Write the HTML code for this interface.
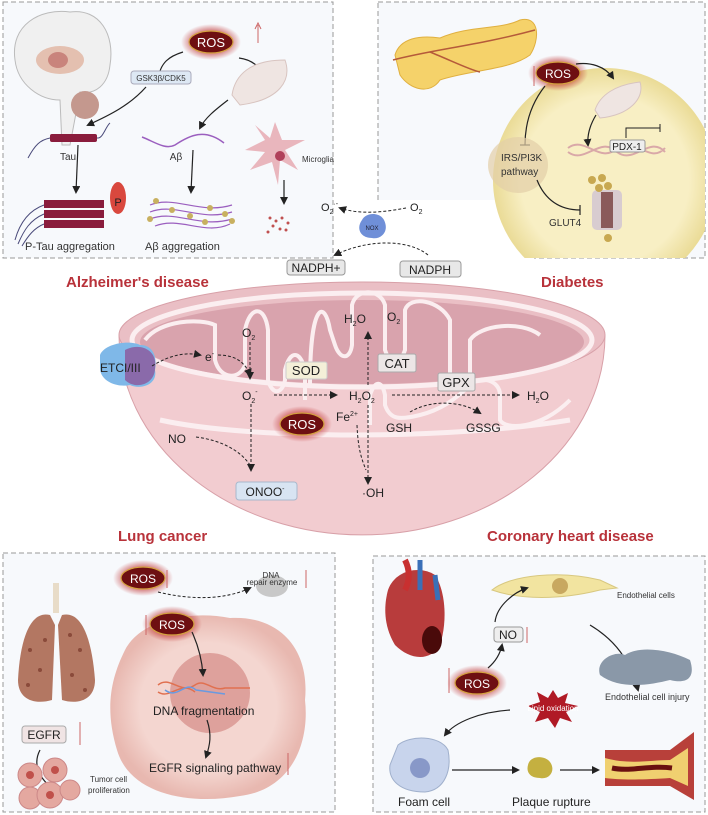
<!DOCTYPE html>
<html><head><meta charset="utf-8"><style>
html,body{margin:0;padding:0;background:#fff}
svg{display:block}
text{font-family:"Liberation Sans",sans-serif}
</style></head><body>
<svg width="708" height="815" viewBox="0 0 708 815" xmlns="http://www.w3.org/2000/svg">
<defs>
<marker id="ah" markerWidth="8" markerHeight="8" refX="6" refY="4" orient="auto" markerUnits="userSpaceOnUse"><path d="M0,0 L8,4 L0,8 Z" fill="#222"/></marker>
<radialGradient id="glow"><stop offset="0.6" stop-color="#b22" stop-opacity="0.6"/><stop offset="1" stop-color="#b22" stop-opacity="0"/></radialGradient>
<radialGradient id="cellY" cx="0.5" cy="0.5" r="0.5"><stop offset="0.75" stop-color="#f8efc4"/><stop offset="1" stop-color="#eadb96"/></radialGradient>
<radialGradient id="cellP" cx="0.5" cy="0.5" r="0.5"><stop offset="0.7" stop-color="#f4d6d0"/><stop offset="1" stop-color="#e8b8b0"/></radialGradient>
<clipPath id="dclip"><rect x="378" y="2" width="327" height="256"/></clipPath>
<g id="ros"><ellipse cx="0" cy="0" rx="30" ry="18" fill="url(#glow)"/><ellipse cx="0" cy="0" rx="22" ry="11" fill="#6e0f12" stroke="#d4a340" stroke-width="1.2"/></g>
</defs>

<!-- panels -->
<rect x="3" y="2" width="330" height="256" fill="#f7f9fc" stroke="#999" stroke-dasharray="5,3"/>
<rect x="378" y="2" width="327" height="256" fill="#f7f9fc" stroke="#999" stroke-dasharray="5,3"/>
<rect x="3" y="553" width="332" height="259" fill="#f7f9fc" stroke="#999" stroke-dasharray="5,3"/>
<rect x="373" y="556" width="332" height="256" fill="#f7f9fc" stroke="#999" stroke-dasharray="5,3"/>
<rect x="334" y="200" width="200" height="60" fill="#fff"/>

<!-- ===== Alzheimer panel ===== -->
<path d="M15,60 C10,25 40,8 70,12 C100,8 115,35 110,65 C108,85 95,95 80,92 L70,145 L62,145 L60,100 C40,100 18,85 15,60Z" fill="#f0f0f0" stroke="#bbb"/>
<ellipse cx="60" cy="60" rx="24" ry="14" fill="#e4c0b0"/>
<ellipse cx="58" cy="60" rx="10" ry="8" fill="#c9847c"/>
<circle cx="85" cy="105" r="14" fill="#c4988e"/>
<g transform="translate(211,42)"><use href="#ros"/></g>
<text x="211" y="47" font-size="13" fill="#fff" text-anchor="middle">ROS</text>
<line x1="258" y1="43" x2="258" y2="25" stroke="#c66" stroke-width="1"/><path d="M255,29 L258,23 L261,29" fill="none" stroke="#c66"/>
<path d="M183,52 C170,56 160,62 158,80" fill="none" stroke="#222" stroke-width="1.2" marker-end="url(#ah)"/>
<path d="M239,58 C255,60 262,70 266,80" fill="none" stroke="#222" stroke-width="1.2" marker-end="url(#ah)"/>
<rect x="131" y="71" width="60" height="13" rx="3" fill="#dde8f4" stroke="#aab"/>
<text x="161" y="81" font-size="8" fill="#333" text-anchor="middle">GSK3β/CDK5</text>
<path d="M232,95 C235,75 250,60 285,60 C292,80 280,100 240,105Z" fill="#efe5e2" stroke="#d8c4c0"/>
<path d="M146,87 C130,105 110,115 88,125" fill="none" stroke="#222" stroke-width="1.2" marker-end="url(#ah)"/>
<path d="M228,100 C215,110 205,118 200,128" fill="none" stroke="#222" stroke-width="1.2" marker-end="url(#ah)"/>
<path d="M28,158 C35,145 40,140 50,138 L98,138 C103,138 106,126 110,123" fill="none" stroke="#4a4a7a" stroke-width="1"/>
<rect x="50" y="134" width="47" height="8" rx="2" fill="#8a1c3c"/>
<text x="68" y="160" font-size="10" fill="#333" text-anchor="middle">Tau</text>
<line x1="78" y1="145" x2="76" y2="192" stroke="#222" stroke-width="1.2" marker-end="url(#ah)"/>
<g fill="#8a1c3c"><rect x="44" y="200" width="60" height="8"/><rect x="44" y="210" width="60" height="8"/><rect x="44" y="220" width="60" height="8"/></g>
<path d="M15,240 C20,222 30,210 44,205 M18,244 C24,230 30,220 44,214 M22,246 C28,236 34,228 44,224" fill="none" stroke="#4a4a7a"/>
<ellipse cx="118" cy="198" rx="8" ry="16" fill="#d9483e"/>
<text x="118" y="206" font-size="11" fill="#222" text-anchor="middle">P</text>
<text x="25" y="250" font-size="11" fill="#333">P-Tau aggregation</text>
<path d="M142,137 C155,142 165,150 175,145 C190,135 205,128 224,143" fill="none" stroke="#9b5fbf" stroke-width="1.5"/>
<text x="176" y="160" font-size="10" fill="#333" text-anchor="middle">Aβ</text>
<line x1="193" y1="150" x2="191" y2="192" stroke="#222" stroke-width="1.2" marker-end="url(#ah)"/>
<path d="M150,205 C175,195 200,215 232,205 M150,212 C175,202 200,222 232,212 M150,219 C175,209 200,229 232,219 M155,226 C180,216 205,236 230,224" fill="none" stroke="#9b5fbf" stroke-width="1.2"/>
<g fill="#c8b060"><circle cx="156" cy="201" r="3"/><circle cx="172" cy="210" r="3"/><circle cx="210" cy="208" r="3"/><circle cx="225" cy="214" r="3"/><circle cx="150" cy="219" r="3"/><circle cx="190" cy="216" r="3"/><circle cx="232" cy="221" r="3"/><circle cx="205" cy="222" r="3"/></g>
<text x="145" y="250" font-size="11" fill="#333">Aβ aggregation</text>
<path d="M265,140 L255,125 L270,138 L275,122 L282,140 L305,140 L285,150 L298,170 L280,160 L278,185 L272,162 L250,170 L265,152 L245,150Z" fill="#e9b6bd"/>
<circle cx="280" cy="156" r="5" fill="#b0405a"/>
<text x="302" y="162" font-size="8" fill="#333">Microglia</text>
<line x1="284" y1="180" x2="284" y2="203" stroke="#222" stroke-width="1.2" marker-end="url(#ah)"/>
<g fill="#c05050"><circle cx="270" cy="218" r="1.5"/><circle cx="276" cy="221" r="1.5"/><circle cx="282" cy="218" r="1.5"/><circle cx="288" cy="223" r="1.5"/><circle cx="273" cy="226" r="1.5"/><circle cx="280" cy="229" r="1.5"/><circle cx="286" cy="230" r="1.5"/><circle cx="268" cy="232" r="1.5"/></g>

<!-- ===== Diabetes panel ===== -->
<g clip-path="url(#dclip)">
<circle cx="605" cy="180" r="112" fill="url(#cellY)"/>
</g>
<path d="M395,55 C400,38 420,35 440,38 C470,25 500,30 520,20 C540,15 540,40 530,55 C510,70 470,70 440,80 C430,95 410,90 400,75Z" fill="#f5d26a" stroke="#e0b040"/>
<path d="M393,60 C430,50 480,45 535,30 M430,52 C450,60 470,70 480,72" fill="none" stroke="#b55a3a" stroke-width="1.5"/>
<g transform="translate(558,73)"><use href="#ros"/></g>
<text x="558" y="78" font-size="12" fill="#fff" text-anchor="middle">ROS</text>
<line x1="534" y1="86" x2="534" y2="66" stroke="#c66"/>
<path d="M576,64 C590,62 605,66 613,78" fill="none" stroke="#222" stroke-width="1.2" marker-end="url(#ah)"/>
<path d="M595,110 C600,95 615,85 640,82 C645,98 630,115 600,118Z" fill="#efe5e2" stroke="#d8c4c0"/>
<path d="M596,115 C590,125 587,135 588,145" fill="none" stroke="#222" stroke-width="1.2" marker-end="url(#ah)"/>
<path d="M545,86 C530,105 525,125 525,145" fill="none" stroke="#222" stroke-width="1.2"/><line x1="520" y1="145" x2="530" y2="145" stroke="#222" stroke-width="1.2"/>
<path d="M568,148 C585,135 600,165 617,148 C634,135 650,165 665,148 M568,152 C585,165 600,135 617,152 C634,165 650,135 665,152" fill="none" stroke="#d9a8a8" stroke-width="2"/>
<path d="M626,138 L626,128 L660,128 M660,124 L660,132" fill="none" stroke="#222"/>
<rect x="610" y="140" width="35" height="12" rx="2" fill="#eee" stroke="#999"/>
<text x="627" y="150" font-size="10" fill="#222" text-anchor="middle">PDX-1</text>
<ellipse cx="518" cy="165" rx="30" ry="28" fill="#e2cfa8" opacity="0.7"/>
<text x="501" y="161" font-size="10" fill="#333">IRS/PI3K</text>
<text x="501" y="175" font-size="10" fill="#333">pathway</text>
<path d="M537,180 C545,200 560,210 580,210" fill="none" stroke="#222" stroke-width="1.2"/><line x1="580" y1="205" x2="580" y2="215" stroke="#222" stroke-width="1.2"/>
<text x="549" y="226" font-size="10" fill="#333">GLUT4</text>
<rect x="592" y="190" width="30" height="40" rx="5" fill="#d8ccd0"/>
<rect x="601" y="192" width="12" height="36" fill="#8a5a5a"/>
<g fill="#c8a850"><circle cx="592" cy="180" r="4"/><circle cx="602" cy="178" r="4"/><circle cx="608" cy="186" r="4"/><circle cx="599" cy="188" r="4"/><circle cx="608" cy="238" r="4"/></g>

<!-- NOX -->
<text x="321" y="211" font-size="11" fill="#222">O<tspan font-size="7" dy="3">2</tspan><tspan font-size="7" dy="-8">·-</tspan></text>
<text x="410" y="211" font-size="11" fill="#222">O<tspan font-size="7" dy="3">2</tspan></text>
<path d="M406,208 C385,212 360,215 340,208" fill="none" stroke="#222" stroke-dasharray="3,2" marker-end="url(#ah)"/>
<path d="M362,220 C366,212 380,212 384,220 C390,232 380,240 372,238 C360,238 356,228 362,220Z" fill="#6f8fd8"/>
<text x="372" y="230" font-size="6" fill="#223" text-anchor="middle">NOX</text>
<path d="M428,255 C410,240 370,238 335,255" fill="none" stroke="#222" stroke-dasharray="3,2" marker-end="url(#ah)"/>
<rect x="287" y="260" width="58" height="15" rx="3" fill="#e8e8e8" stroke="#999"/>
<text x="316" y="272" font-size="12" fill="#222" text-anchor="middle">NADPH+</text>
<rect x="400" y="261" width="61" height="16" rx="3" fill="#e8e8e8" stroke="#999"/>
<text x="430" y="274" font-size="12" fill="#222" text-anchor="middle">NADPH</text>

<!-- titles -->
<text x="66" y="287" font-size="15" font-weight="bold" fill="#b8323a">Alzheimer's disease</text>
<text x="541" y="287" font-size="15" font-weight="bold" fill="#b8323a">Diabetes</text>
<text x="118" y="541" font-size="15" font-weight="bold" fill="#b8323a">Lung cancer</text>
<text x="487" y="541" font-size="15" font-weight="bold" fill="#b8323a">Coronary heart disease</text>

<!-- ===== Mitochondrion ===== -->
<path d="M119,335 A243,200 0 0 0 605,335 Z" fill="#f2ccd0" stroke="#d8a0a8"/>
<ellipse cx="362" cy="335" rx="243" ry="53" fill="#eabfc5" stroke="#d8a0a8"/>
<ellipse cx="362" cy="340" rx="230" ry="47" fill="none" stroke="#fbeef0" stroke-width="5"/>
<ellipse cx="362" cy="342" rx="222" ry="42" fill="#d9a3ad"/>
<path d="M145,340 C160,320 200,318 215,325 L215,360 C220,380 240,380 245,365 L245,330 C250,305 265,305 268,330 L268,380 C272,395 282,395 285,380 L285,370 C290,350 300,350 305,370 L305,400" fill="none" stroke="#fbeef0" stroke-width="4"/>
<path d="M310,385 C310,300 325,300 330,330 L335,345 C340,360 350,360 352,345 L352,305 C356,288 380,288 385,305 L385,350 C390,365 400,365 405,350 L405,310 C410,295 440,300 450,320 L450,375 C455,385 465,385 470,375 L470,340 C480,325 520,320 540,335" fill="none" stroke="#fbeef0" stroke-width="4"/>
<path d="M370,425 L370,395 C375,380 382,380 385,395 L385,405 C390,420 400,420 420,415 C440,410 455,400 470,385 C480,375 500,380 500,395 L500,420 C505,430 540,430 570,400" fill="none" stroke="#fbeef0" stroke-width="4"/>
<path d="M160,420 C250,440 450,440 570,420" fill="none" stroke="#fbeef0" stroke-width="5"/>
<!-- ETC -->
<path d="M100,355 C105,343 130,340 140,345 C155,345 157,360 155,370 C158,385 140,390 130,385 C115,388 100,380 100,368Z" fill="#7fb8e8"/>
<path d="M125,350 C140,342 158,350 155,368 C155,385 135,390 125,380Z" fill="#8a6aaa"/>
<text x="100" y="372" font-size="12" fill="#222">ETCI/III</text>
<path d="M152,366 C170,355 185,352 200,355" fill="none" stroke="#222" stroke-dasharray="3,2" marker-end="url(#ah)"/>
<text x="205" y="361" font-size="12" fill="#222">e<tspan font-size="7" dy="-5">-</tspan></text>
<path d="M218,355 C235,355 245,362 250,375" fill="none" stroke="#222" stroke-dasharray="3,2" marker-end="url(#ah)"/>
<text x="242" y="337" font-size="12" fill="#222">O<tspan font-size="7" dy="3">2</tspan></text>
<line x1="250" y1="342" x2="250" y2="378" stroke="#222" stroke-dasharray="3,2" marker-end="url(#ah)"/>
<rect x="286" y="362" width="41" height="17" rx="2" fill="#f4efd8" stroke="#ccc"/>
<text x="306" y="375" font-size="13" fill="#222" text-anchor="middle">SOD</text>
<text x="242" y="400" font-size="12" fill="#222">O<tspan font-size="7" dy="3">2</tspan><tspan font-size="7" dy="-9">-</tspan></text>
<line x1="274" y1="395" x2="336" y2="395" stroke="#222" stroke-dasharray="3,2" marker-end="url(#ah)"/>
<text x="349" y="400" font-size="12" fill="#222">H<tspan font-size="7" dy="3">2</tspan><tspan dy="-3">O</tspan><tspan font-size="7" dy="3">2</tspan></text>
<line x1="368" y1="385" x2="368" y2="333" stroke="#222" stroke-dasharray="3,2" marker-end="url(#ah)"/>
<text x="344" y="323" font-size="12" fill="#222">H<tspan font-size="7" dy="3">2</tspan><tspan dy="-3">O</tspan></text>
<text x="387" y="321" font-size="12" fill="#222">O<tspan font-size="7" dy="3">2</tspan></text>
<rect x="378" y="354" width="38" height="18" rx="2" fill="#ece6e6" stroke="#aaa"/>
<text x="397" y="368" font-size="13" fill="#222" text-anchor="middle">CAT</text>
<rect x="438" y="373" width="37" height="18" rx="2" fill="#ece6e6" stroke="#aaa"/>
<text x="456" y="387" font-size="13" fill="#222" text-anchor="middle">GPX</text>
<line x1="392" y1="395" x2="518" y2="395" stroke="#222" stroke-dasharray="3,2" marker-end="url(#ah)"/>
<text x="527" y="400" font-size="12" fill="#222">H<tspan font-size="7" dy="3">2</tspan><tspan dy="-3">O</tspan></text>
<path d="M410,412 C430,400 460,400 480,413" fill="none" stroke="#222" stroke-dasharray="3,2" marker-end="url(#ah)"/>
<text x="386" y="432" font-size="12" fill="#222">GSH</text>
<text x="466" y="432" font-size="12" fill="#222">GSSG</text>
<text x="336" y="421" font-size="12" fill="#222">Fe<tspan font-size="7" dy="-5">2+</tspan></text>
<line x1="368" y1="405" x2="368" y2="483" stroke="#222" stroke-dasharray="3,2" marker-end="url(#ah)"/>
<path d="M357,425 C358,450 362,460 366,470" fill="none" stroke="#222" stroke-dasharray="3,2"/>
<text x="362" y="497" font-size="12" fill="#222">·OH</text>
<g transform="translate(302,424)"><use href="#ros"/></g>
<text x="302" y="429" font-size="13" fill="#fff" text-anchor="middle">ROS</text>
<path d="M251,404 L251,470" fill="none" stroke="#222" stroke-dasharray="3,2" marker-end="url(#ah)"/>
<text x="168" y="443" font-size="12" fill="#222">NO</text>
<path d="M196,437 C220,440 240,450 250,465" fill="none" stroke="#222" stroke-dasharray="3,2"/>
<rect x="236" y="482" width="61" height="18" rx="3" fill="#d8e4f2" stroke="#a8b8cc"/>
<text x="265" y="496" font-size="12" fill="#222" text-anchor="middle">ONOO<tspan font-size="7" dy="-5">-</tspan></text>

<!-- ===== Lung cancer ===== -->
<rect x="53" y="583" width="6" height="30" fill="#e8dcc8"/>
<path d="M50,615 C30,610 20,640 18,680 C18,700 35,705 52,700 L55,625Z" fill="#b37762"/>
<path d="M62,615 C82,610 92,640 95,680 C95,700 78,705 62,700 L58,625Z" fill="#b37762"/>
<g fill="#8a4a3a"><circle cx="30" cy="650" r="2"/><circle cx="40" cy="670" r="2"/><circle cx="28" cy="685" r="2"/><circle cx="80" cy="650" r="2"/><circle cx="72" cy="675" r="2"/><circle cx="85" cy="690" r="2"/><circle cx="45" cy="640" r="2"/><circle cx="70" cy="635" r="2"/></g>
<rect x="22" y="726" width="44" height="17" rx="3" fill="#f0e4e4" stroke="#aaa"/>
<text x="44" y="739" font-size="12" fill="#222" text-anchor="middle">EGFR</text>
<line x1="80" y1="745" x2="80" y2="722" stroke="#c66"/>
<path d="M40,750 C32,765 40,780 55,790" fill="none" stroke="#222" stroke-width="1.2" marker-end="url(#ah)"/>
<g fill="#e4a8a0" stroke="#c88"><circle cx="30" cy="775" r="12"/><circle cx="55" cy="770" r="12"/><circle cx="30" cy="798" r="11"/><circle cx="50" cy="795" r="13"/><circle cx="70" cy="790" r="10"/></g>
<g fill="#c0504a"><circle cx="30" cy="775" r="4"/><circle cx="55" cy="770" r="4"/><circle cx="50" cy="795" r="4"/></g>
<text x="90" y="782" font-size="8" fill="#333">Tumor cell</text>
<text x="88" y="793" font-size="8" fill="#333">proliferation</text>
<path d="M125,650 C140,620 190,610 230,618 C280,615 310,650 305,700 C310,745 290,790 240,796 C190,805 130,795 117,750 C105,710 110,680 125,650Z" fill="url(#cellP)"/>
<circle cx="210" cy="693" r="40" fill="#d8948e" opacity="0.8"/>
<g transform="translate(143,578)"><use href="#ros"/></g>
<text x="143" y="583" font-size="12" fill="#fff" text-anchor="middle">ROS</text>
<line x1="167" y1="570" x2="167" y2="588" stroke="#c66"/>
<path d="M158,592 C190,600 225,600 250,588" fill="none" stroke="#222" stroke-dasharray="3,2" marker-end="url(#ah)"/>
<ellipse cx="272" cy="586" rx="16" ry="11" fill="#c8c8c8"/>
<text x="271" y="578" font-size="8" fill="#333" text-anchor="middle">DNA</text>
<text x="272" y="585" font-size="8" fill="#333" text-anchor="middle">repair enzyme</text>
<line x1="306" y1="570" x2="306" y2="588" stroke="#c66"/>
<g transform="translate(172,624)"><use href="#ros"/></g>
<text x="172" y="629" font-size="12" fill="#fff" text-anchor="middle">ROS</text>
<line x1="146" y1="635" x2="146" y2="615" stroke="#c66"/>
<path d="M192,632 C198,645 202,660 203,675" fill="none" stroke="#222" stroke-width="1.2" marker-end="url(#ah)"/>
<path d="M158,685 C170,675 180,695 195,685 C205,678 212,692 225,688 L250,688 M158,692 C170,700 180,680 195,692" fill="none" stroke="#e07050" stroke-width="1.5"/>
<path d="M165,690 C178,700 185,680 196,690 L225,694" fill="none" stroke="#6a9ae0" stroke-width="1.5"/>
<text x="153" y="715" font-size="12" fill="#222">DNA fragmentation</text>
<path d="M207,720 C212,735 210,745 206,757" fill="none" stroke="#222" stroke-width="1.2" marker-end="url(#ah)"/>
<text x="149" y="772" font-size="12" fill="#222">EGFR signaling pathway</text>
<line x1="288" y1="775" x2="288" y2="753" stroke="#c66"/>

<!-- ===== Coronary ===== -->
<path d="M388,590 C395,570 420,565 435,575 C445,590 448,620 440,645 C430,662 410,660 395,645 C383,625 384,605 388,590Z" fill="#b83c3c"/>
<path d="M420,560 L420,590 M435,575 L438,600" stroke="#3a70b8" stroke-width="5"/>
<path d="M405,560 C410,570 410,580 405,590" stroke="#c83030" stroke-width="6" fill="none"/>
<ellipse cx="432" cy="640" rx="10" ry="14" fill="#4a0a0a"/>
<path d="M492,590 C510,575 560,570 600,580 L617,588 L600,590 C560,600 520,600 492,590Z" fill="#f2e4a0" stroke="#d8c880"/>
<circle cx="560" cy="586" r="8" fill="#c8a860"/>
<text x="617" y="598" font-size="8" fill="#333">Endothelial cells</text>
<path d="M495,622 C497,605 515,592 527,588" fill="none" stroke="#222" stroke-width="1.2" marker-end="url(#ah)"/>
<rect x="494" y="627" width="29" height="15" rx="3" fill="#eee" stroke="#999"/>
<text x="508" y="639" font-size="12" fill="#222" text-anchor="middle">NO</text>
<line x1="527" y1="643" x2="527" y2="627" stroke="#c66"/>
<path d="M488,668 C495,662 500,655 502,645" fill="none" stroke="#222" stroke-width="1.2" marker-end="url(#ah)"/>
<path d="M590,625 C615,640 630,660 638,690" fill="none" stroke="#222" stroke-width="1.2" marker-end="url(#ah)"/>
<path d="M600,675 C595,660 615,650 625,655 C640,645 670,650 690,660 C695,675 690,685 670,680 C650,685 620,690 600,675Z" fill="#8a98a8"/>
<text x="605" y="700" font-size="9" fill="#333">Endothelial cell injury</text>
<line x1="449" y1="668" x2="449" y2="693" stroke="#c66"/>
<g transform="translate(477,683)"><use href="#ros"/></g>
<text x="477" y="688" font-size="12" fill="#fff" text-anchor="middle">ROS</text>
<path d="M553,690 L558,698 L568,693 L565,703 L578,706 L566,712 L572,722 L560,718 L555,728 L548,718 L535,722 L540,712 L528,706 L540,702 L537,692 L548,698Z" fill="#b01a25"/>
<text x="553" y="711" font-size="8" fill="#fff" text-anchor="middle">Lipid oxidation</text>
<path d="M510,710 C480,712 455,722 445,735" fill="none" stroke="#222" stroke-width="1.2" marker-end="url(#ah)"/>
<path d="M398,745 C410,735 440,735 448,750 C452,770 445,790 425,792 C400,792 388,780 390,765Z" fill="#c8d4ec" stroke="#a0b0cc"/>
<circle cx="420" cy="768" r="10" fill="#8898c8"/>
<text x="398" y="806" font-size="12" fill="#222">Foam cell</text>
<line x1="452" y1="770" x2="518" y2="770" stroke="#222" stroke-width="1.2" marker-end="url(#ah)"/>
<path d="M528,765 C530,755 545,755 550,762 C556,770 550,780 540,778 C530,778 526,772 528,765Z" fill="#c4b040"/>
<text x="512" y="806" font-size="12" fill="#222">Plaque rupture</text>
<line x1="560" y1="770" x2="598" y2="770" stroke="#222" stroke-width="1.2" marker-end="url(#ah)"/>
<path d="M605,750 L670,750 L694,732 L694,800 L670,786 L605,786Z" fill="#b8403a"/>
<path d="M605,758 C630,765 650,760 670,760 L688,748 L688,786 L670,778 C640,780 620,780 605,778Z" fill="#f0d070"/>
<path d="M612,768 C630,772 650,765 672,768" stroke="#6a1010" stroke-width="5" fill="none"/>
</svg>
</body></html>
